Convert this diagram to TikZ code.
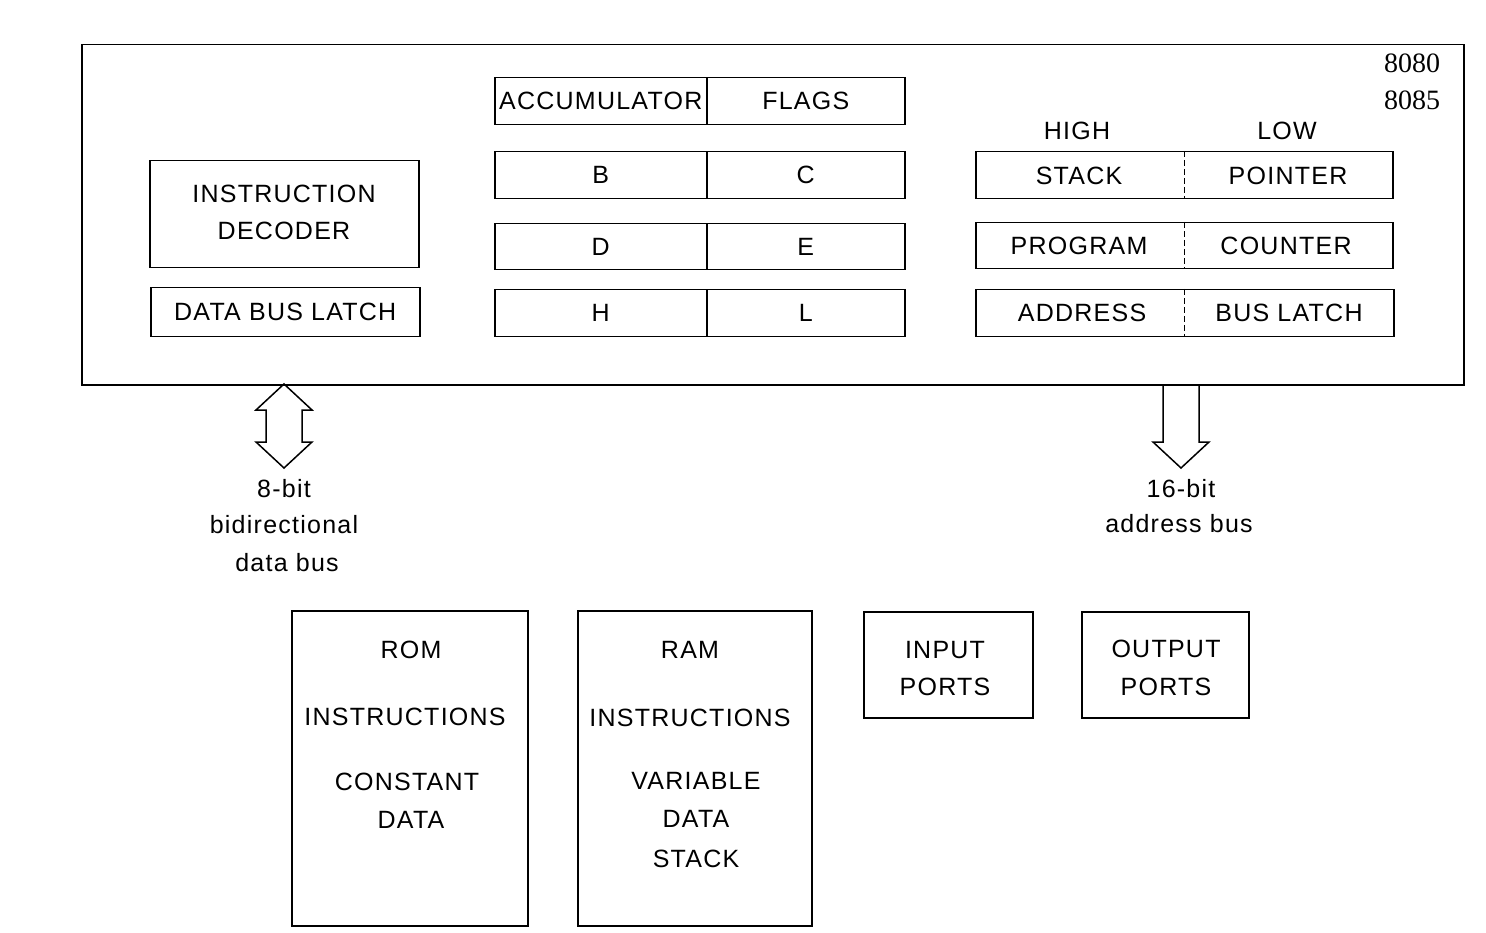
\documentclass[tikz,border=0pt]{standalone}
\usepackage{fontspec}
\setmainfont{Liberation Sans}[LetterSpace=5]
\newfontfamily\numfont{Liberation Serif}
\begin{document}
\begin{tikzpicture}[x=1pt,y=-1pt,
  box/.style={draw,line width=1.5pt,inner sep=0pt,anchor=north west,font=\fontsize{25}{37}\selectfont,align=center},
  lbl/.style={inner sep=0pt,font=\fontsize{25}{37}\selectfont},
  num/.style={inner sep=0pt,font=\numfont\fontsize{28}{37}\selectfont},
  busarrow/.style={draw,line width=1.5pt,line join=miter}]
\useasboundingbox (0,0) rectangle (1486,933);
% outer CPU box
\node[box,minimum width=1382,minimum height=340] (cpu) at (81,44) {};
\node[num] (n80) at (1412,63) {8080};
\node[num] (n85) at (1412,100) {8085};
% register file
\node[box,minimum width=212,minimum height=47] (acc) at (494,77) {ACCUMULATOR};
\node[box,minimum width=198,minimum height=47] (flg) at (706,77) {FLAGS};
\node[box,minimum width=212,minimum height=47] (rb) at (494,151) {B};
\node[box,minimum width=198,minimum height=47] (rc) at (706,151) {C};
\node[box,minimum width=212,minimum height=46] (rd) at (494,223) {D};
\node[box,minimum width=198,minimum height=46] (re) at (706,223) {E};
\node[box,minimum width=212,minimum height=47] (rh) at (494,289) {H};
\node[box,minimum width=198,minimum height=47] (rl) at (706,289) {L};
% decoder and latch
\node[box,minimum width=269,minimum height=107] (dec) at (149,160) {};
\node[lbl] at (284,194) {INSTRUCTION};
\node[lbl] at (284,231) {DECODER};
\node[box,minimum width=269,minimum height=49] (dbl) at (150,287) {DATA BUS LATCH};
% 16-bit registers
\node[lbl] (high) at (1077,131) {HIGH};
\node[lbl] (low) at (1287,131) {LOW};
\node[box,minimum width=417,minimum height=47] (sp) at (975,151) {};
\node[lbl] at (1079,176) {STACK};
\node[lbl] at (1288,176) {POINTER};
\node[box,minimum width=417,minimum height=46] (pc) at (975,222) {};
\node[lbl] at (1079,246) {PROGRAM};
\node[lbl] at (1286,246) {COUNTER};
\node[box,minimum width=418,minimum height=47] (abl) at (975,289) {};
\node[lbl] at (1082,313) {ADDRESS};
\node[lbl] at (1289,313) {BUS LATCH};
\foreach \r in {sp,pc,abl}
  \draw[line width=1.3pt,dash pattern=on 6pt off 3pt] (\r.north) -- (\r.south);
% data bus arrow (bidirectional)
\coordinate (da) at (284,384);
\draw[busarrow] (da) -- ++(28,26) -- ++(-10,0) -- ++(0,32) -- ++(10,0) -- ++(-28,26)
  -- ++(-28,-26) -- ++(10,0) -- ++(0,-32) -- ++(-10,0) -- cycle;
% address bus arrow
\coordinate (aa) at (1181,384);
\draw[busarrow] (aa) ++(-18,0) -- ++(0,58) -- ++(-10,0) -- ++(28,26) -- ++(28,-26) -- ++(-10,0) -- ++(0,-58);
\node[lbl] (l8a) at (284,489) {8-bit};
\node[lbl] (l8b) at (284,525) {bidirectional};
\node[lbl] (l8c) at (287,563) {data bus};
\node[lbl] (l16a) at (1181,489) {16-bit};
\node[lbl] (l16b) at (1179,524) {address bus};
% memory and ports
\node[box,minimum width=236,minimum height=315] (rom) at (291,610) {};
\node[lbl] at (411,650) {ROM};
\node[lbl] at (405,717) {INSTRUCTIONS};
\node[lbl] at (407,782) {CONSTANT};
\node[lbl] at (411,820) {DATA};
\node[box,minimum width=234,minimum height=315] (ram) at (577,610) {};
\node[lbl] at (690,650) {RAM};
\node[lbl] at (690,718) {INSTRUCTIONS};
\node[lbl] at (696,781) {VARIABLE};
\node[lbl] at (696,819) {DATA};
\node[lbl] at (696,859) {STACK};
\node[box,minimum width=169,minimum height=106] (inp) at (863,611) {};
\node[lbl] at (945,650) {INPUT};
\node[lbl] at (945,687) {PORTS};
\node[box,minimum width=167,minimum height=106] (outp) at (1081,611) {};
\node[lbl] at (1166,649) {OUTPUT};
\node[lbl] at (1166,687) {PORTS};
\end{tikzpicture}
\end{document}
